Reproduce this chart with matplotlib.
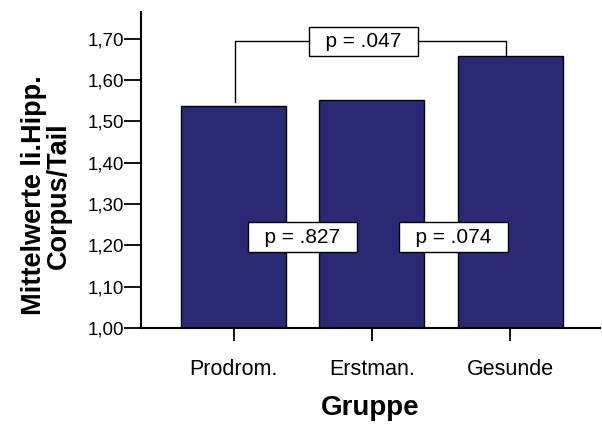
import matplotlib
matplotlib.use("Agg")
import matplotlib.pyplot as plt

plt.rcParams['font.family'] = ['Liberation Sans', 'DejaVu Sans']

gruppen = ["Prodrom.", "Erstman.", "Gesunde"]
mittelwerte = [1.537, 1.552, 1.659]
y_ticks = [1.00, 1.10, 1.20, 1.30, 1.40, 1.50, 1.60, 1.70]
y_labels = ["1,00", "1,10", "1,20", "1,30", "1,40", "1,50", "1,60", "1,70"]
p_texte = ["p = .827", "p = .074", "p = .047"]

fig = plt.figure(figsize=(6.02, 4.24), dpi=100)
ax = fig.add_axes([0.234, 0.2264, 0.763, 0.7453])

x = range(len(gruppen))
ax.bar(x, mittelwerte, width=0.76, color="#292a73", edgecolor="black", linewidth=1.0)

ax.set_ylim(1.0, 1.765)
ax.set_xlim(-0.67, 2.65)
ax.set_yticks(y_ticks)
ax.set_yticklabels(y_labels, fontsize=13.5)
ax.set_xticks(list(x))
ax.set_xticklabels(gruppen, fontsize=15.5)
ax.tick_params(axis='y', length=12, width=1.3, pad=0)
ax.tick_params(axis='x', length=9, width=1.3, pad=13)

for s in ["top", "right"]:
    ax.spines[s].set_visible(False)
for s in ["left", "bottom"]:
    ax.spines[s].set_linewidth(1.5)

ax.set_xlabel("Gruppe", fontsize=20, fontweight="bold", labelpad=11)
ax.set_ylabel("Mittelwerte li.Hipp.\nCorpus/Tail", fontsize=19.5, fontweight="bold",
              linespacing=0.95)
ax.yaxis.set_label_coords(-0.150, 0.42)

# Klammer fuer den Vergleich Prodrom. - Gesunde
y_klammer = 1.694
ax.plot([0.01, 0.01, 1.97, 1.97], [mittelwerte[0] + 0.01, y_klammer, y_klammer, mittelwerte[2]],
        color="black", linewidth=1.0, zorder=3)

box = dict(boxstyle="square,pad=0.25", facecolor="white", edgecolor="black", linewidth=1.0)
ax.text(0.94, y_klammer, "  " + p_texte[2] + "  ", fontsize=15, ha="center", va="center", bbox=box, zorder=4)
ax.text(0.5, 1.22, "  " + p_texte[0] + "  ", fontsize=15, ha="center", va="center", bbox=box, zorder=4)
ax.text(1.59, 1.22, "  " + p_texte[1] + "  ", fontsize=15, ha="center", va="center", bbox=box, zorder=4)

fig.savefig("out.png", dpi=100)
